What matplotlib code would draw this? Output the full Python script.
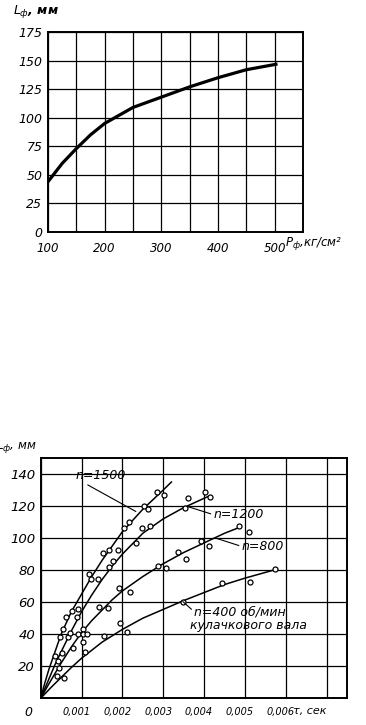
import numpy as np
import matplotlib
matplotlib.use('Agg')
import matplotlib.pyplot as plt
import matplotlib.transforms as mtransforms

plt.rcParams['font.family'] = ['DejaVu Sans']
plt.rcParams['font.style'] = 'italic'
plt.rcParams['mathtext.fontset'] = 'dejavusans'

# upper chart: L_f vs P_f
p_f = [100, 125, 150, 175, 200, 225, 250, 300, 350, 400, 450, 505]
l_f = [44, 60, 73, 85, 95, 102, 109, 118, 127, 135, 142, 147]
top_xticks = [100, 150, 200, 250, 300, 350, 400, 450, 500, 550]
top_xlabels = ['100', '', '200', '', '300', '', '400', '', '500', '']
top_yticks = [0, 25, 50, 75, 100, 125, 150, 175]
top_ylabels = ['0', '25', '50', '75', '100', '125', '150', '175']

# lower chart: fitted curves and measured points for each cam shaft speed
tau_1500 = [0, 0.0001, 0.0002, 0.00035, 0.0005, 0.00075, 0.001, 0.00125, 0.0015, 0.00175,
            0.002, 0.0025, 0.003, 0.0032]
phi_1500 = [0, 9.5, 18, 29, 40, 54, 65, 76, 86, 95, 104, 118, 130, 135]
tau_1200 = [0, 0.0001, 0.0002, 0.00035, 0.0005, 0.00075, 0.001, 0.00125, 0.0015, 0.00175,
            0.002, 0.0025, 0.003, 0.0035, 0.0041]
phi_1200 = [0, 6, 12, 21, 29, 42, 54, 64.5, 74, 82.5, 90, 103, 112, 119, 126]
tau_800 = [0, 0.0001, 0.0002, 0.00035, 0.0005, 0.00075, 0.001, 0.00125, 0.0015, 0.00175,
           0.002, 0.0025, 0.003, 0.0035, 0.004, 0.0045, 0.0049]
phi_800 = [0, 4.5, 9, 15.5, 22, 32, 41, 48.5, 55, 61.5, 67, 76, 84, 91, 97, 103, 107]
tau_400 = [0, 0.00025, 0.0005, 0.00075, 0.001, 0.0015, 0.002, 0.0025, 0.003, 0.0035, 0.004,
           0.0045, 0.005, 0.0057]
phi_400 = [0, 6.7, 13, 19.2, 25, 35, 43, 50, 55.5, 61, 66, 71, 75, 80]

pts_tau_1500 = [0.00035, 0.00047, 0.00055, 0.00063, 0.00076, 0.00118, 0.00123, 0.00153,
                0.00167, 0.00204, 0.00216, 0.00253, 0.00263, 0.00284, 0.00303]
pts_phi_1500 = [26.6, 38.5, 43, 51, 54.8, 77.5, 74.6, 90.6, 92.7, 106, 109.8, 120, 118, 129, 127]
pts_tau_1200 = [0.00043, 0.00051, 0.00067, 0.00072, 0.0009, 0.00092, 0.0014, 0.00167, 0.00178,
                0.00189, 0.00233, 0.00248, 0.00268, 0.00354, 0.0036, 0.00403, 0.00414]
pts_phi_1200 = [23.3, 28.5, 38.5, 41, 51, 55.8, 74.6, 81.9, 86, 92.3, 96.9, 106, 107.7,
                118.7, 125, 129, 125.6]
pts_tau_800 = [0.00039, 0.00044, 0.00078, 0.00092, 0.00103, 0.00104, 0.00104, 0.00114, 0.00143,
               0.00166, 0.00192, 0.00218, 0.00286, 0.00307, 0.00336, 0.00355, 0.00393, 0.00412,
               0.00486, 0.00509]
pts_phi_800 = [14.1, 18.7, 31.2, 40, 35, 43, 40, 40, 57.3, 56.2, 68.7, 66.6, 82.7, 81.3,
               91.6, 86.9, 97.9, 94.8, 107.7, 103.7]
pts_tau_400 = [0.00058, 0.00109, 0.00154, 0.00195, 0.00212, 0.00348, 0.00445, 0.00513, 0.00574]
pts_phi_400 = [12.9, 28.8, 39.1, 46.9, 41.2, 60.4, 71.9, 72.3, 80.6]

bot_xticks = [0, 0.001, 0.002, 0.003, 0.004, 0.005, 0.006, 0.007]
bot_xlabels = ['', '0,001', '0,002', '0,003', '0,004', '0,005', '0,006', '']
bot_yticks = [0, 20, 40, 60, 80, 100, 120, 140]
bot_ylabels = ['', '20', '40', '60', '80', '100', '120', '140']

W, H = 366, 725
fig = plt.figure(figsize=(W / 100, H / 100), dpi=100)


def frac(x0, y0, x1, y1):
    return [x0 / W, 1 - y1 / H, (x1 - x0) / W, (y1 - y0) / H]


def style_axes(ax):
    for s in ax.spines.values():
        s.set_linewidth(1.4)
    ax.grid(True, color='black', linewidth=0.9)
    ax.tick_params(length=0, pad=4)


# ---- upper chart ----
ax1 = fig.add_axes(frac(48, 32, 303, 232))
ax1.plot(p_f, l_f, color='black', linewidth=2.3, solid_capstyle='butt')
ax1.set_xlim(100, 550)
ax1.set_ylim(0, 175)
ax1.set_xticks(top_xticks)
ax1.set_xticklabels(top_xlabels, fontsize=8.5)
ax1.set_yticks(top_yticks)
ax1.set_yticklabels(top_ylabels, fontsize=9)
style_axes(ax1)
ax1.tick_params(axis='x', pad=7)
fig.text(13 / W, 1 - 12 / H, r'$L_ф$, мм', fontsize=9, weight='bold', va='center')
fig.text(285 / W, 1 - 244 / H, r'$P_ф$,кг/см²', fontsize=8.5, va='center')

# ---- lower chart ----
ax2 = fig.add_axes(frac(40.7, 458, 347, 698.3))
for t, f in [(tau_1500, phi_1500), (tau_1200, phi_1200), (tau_800, phi_800), (tau_400, phi_400)]:
    ax2.plot(t, f, color='black', linewidth=1.1)
for t, f in [(pts_tau_1500, pts_phi_1500), (pts_tau_1200, pts_phi_1200),
             (pts_tau_800, pts_phi_800), (pts_tau_400, pts_phi_400)]:
    ax2.plot(t, f, linestyle='none', marker='o', markersize=3.6, markeredgewidth=0.9,
             markeredgecolor='black', markerfacecolor='white')
ax2.set_xlim(0, 0.0075)
ax2.set_ylim(0, 150)
ax2.set_xticks(bot_xticks)
ax2.set_xticklabels(bot_xlabels, fontsize=7)
ax2.set_yticks(bot_yticks)
ax2.set_yticklabels(bot_ylabels, fontsize=9.5)
style_axes(ax2)
ax2.tick_params(axis='x', pad=6)
shift = mtransforms.ScaledTranslation(-5 / 100, 0, fig.dpi_scale_trans)
for lbl in ax2.get_xticklabels():
    lbl.set_transform(lbl.get_transform() + shift)

line_kw = dict(arrowstyle='-', linewidth=0.8, color='black', shrinkA=0, shrinkB=0)
ax2.annotate('n=1500', xy=(0.00233, 116.6), xytext=(0.00146, 139), fontsize=9,
             ha='center', va='center',
             arrowprops=dict(line_kw, relpos=(0.15, 0.0)))
ax2.annotate('n=1200', xy=(0.0036, 119.7), xytext=(0.00423, 114.6), fontsize=9,
             ha='left', va='center',
             arrowprops=dict(line_kw, relpos=(0.0, 0.5)))
ax2.annotate('n=800', xy=(0.00426, 100.2), xytext=(0.00492, 94.8), fontsize=9,
             ha='left', va='center',
             arrowprops=dict(line_kw, relpos=(0.0, 0.5)))
ax2.annotate('n=400 об/мин', xy=(0.00348, 60.4), xytext=(0.00376, 54), fontsize=9,
             ha='left', va='center',
             arrowprops=dict(line_kw, relpos=(0.0, 0.5)))
ax2.text(0.00509, 45.4, 'кулачкового вала', fontsize=9, ha='center', va='center')

fig.text(-4 / W, 1 - 446 / H, r'$L_ф$, мм', fontsize=8.5, va='center')
fig.text(28 / W, 1 - 712 / H, '0', fontsize=9, ha='center', va='center')
fig.text(293 / W, 1 - 711 / H, 'τ, сек', fontsize=8, va='center')

fig.savefig('out.png', dpi=100, facecolor='white')
